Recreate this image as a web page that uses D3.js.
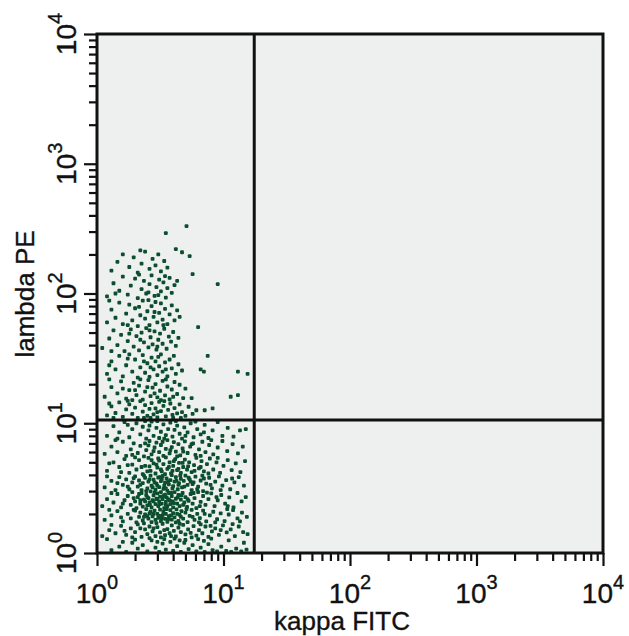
<!DOCTYPE html>
<html>
<head>
<meta charset="utf-8">
<script src="https://cdn.jsdelivr.net/npm/d3@7"></script>
<style>
  body { margin: 0; background: #fff; }
  text { font-family: "Liberation Sans", Arial, Helvetica, sans-serif; fill: #111; stroke: #111; stroke-width: 0.35px; }
</style>
</head>
<body>
<svg id="chart"></svg>
<script>
// ── Data ─────────────────────────────────────────────────────────────────────
const decades   = [1, 10, 100, 1000, 10000];
const xTitle    = 'kappa FITC';
const yTitle    = 'lambda PE';
const kappaGate  = 17.5;   // vertical quadrant marker
const lambdaGate = 10.6;   // horizontal quadrant marker

// [kappa, lambda] events, lambda below the gate
const cellsLower = [
  [1.3,1.05],[1.5,1.12],[1.7,1.02],[1.9,1.2],[2.1,1.08],[2.3,1.15],[2.5,1.03],[2.7,1.25],[2.9,1.1],[3.1,1.02],
  [3.3,1.18],[3.5,1.06],[3.8,1.22],[4.0,1.04],[4.3,1.13],[4.6,1.02],[4.9,1.2],[5.3,1.07],[5.7,1.15],[6.1,1.03],
  [6.6,1.1],[7.1,1.02],[7.6,1.17],[8.2,1.05],[8.9,1.03],[9.6,1.12],[10.5,1.04],[11.5,1.02],[12.6,1.08],[13.8,1.03],
  [15.2,1.06],[1.2,1.28],[2.0,1.27],[2.6,1.3],[3.4,1.28],[4.1,1.29],[5.0,1.26],[6.3,1.28],[8.0,1.29],[11.0,1.25],
  [14.5,1.2],[1.6,1.22],[3.0,1.22],[4.5,1.25],[7.0,1.24],
  [1.1,1.35],[1.25,1.5],[1.4,1.42],[1.55,1.62],[1.7,1.38],[1.85,1.55],[2.0,1.45],[2.1,1.66],[2.25,1.33],[2.4,1.52],
  [2.5,1.4],[2.6,1.6],[2.75,1.47],[2.9,1.35],[3.0,1.58],[3.15,1.44],[3.3,1.68],[3.45,1.37],[3.6,1.53],[3.75,1.42],
  [3.9,1.63],[4.05,1.48],[4.2,1.34],[4.4,1.57],[4.6,1.45],[4.8,1.65],[5.0,1.39],[5.25,1.52],[5.5,1.43],[5.8,1.61],
  [6.1,1.36],[6.4,1.5],[6.8,1.42],[7.2,1.6],[7.6,1.33],[8.1,1.47],[8.6,1.55],[9.2,1.38],[9.9,1.63],[10.6,1.44],
  [11.4,1.52],[12.3,1.35],[13.2,1.6],[14.3,1.45],[15.5,1.4],[1.3,1.65],[1.9,1.32],[2.35,1.69],[2.8,1.55],[3.4,1.5],
  [3.85,1.35],[4.5,1.68],[5.6,1.32],[6.6,1.66],[7.9,1.62],[9.5,1.5],[11.8,1.67],[1.65,1.48],[2.2,1.55],[3.2,1.32],
  [1.15,1.8],[1.3,1.95],[1.45,2.1],[1.6,1.75],[1.75,2.0],[1.85,1.85],[1.95,2.15],[2.05,1.72],[2.15,1.9],[2.2,2.05],
  [2.3,1.78],[2.4,1.98],[2.45,2.18],[2.55,1.84],[2.6,2.02],[2.7,1.73],[2.75,1.92],[2.85,2.12],[2.9,1.8],[3.0,2.0],
  [3.05,1.87],[3.15,2.16],[3.2,1.76],[3.3,1.96],[3.35,2.08],[3.45,1.83],[3.5,2.0],[3.6,1.74],[3.7,1.92],[3.8,2.14],
  [3.9,1.81],[4.0,2.03],[4.1,1.88],[4.25,2.17],[4.4,1.77],[4.5,1.97],[4.65,2.1],[4.8,1.84],[5.0,2.05],[5.2,1.73],
  [5.4,1.93],[5.6,2.15],[5.9,1.8],[6.2,2.0],[6.5,1.86],[6.9,2.12],[7.3,1.75],[7.8,1.95],[8.3,2.08],[8.9,1.82],
  [9.5,2.02],[10.2,1.76],[11.0,1.98],[11.9,2.14],[12.9,1.85],[14.0,2.05],[15.3,1.9],[1.25,2.15],[1.55,1.88],[2.0,2.12],
  [2.35,1.9],[2.65,2.08],[2.95,1.7],[3.25,1.85],[3.55,2.18],[3.85,1.95],[4.2,1.72],[4.6,1.9],[5.1,2.18],[5.7,1.9],
  [6.4,1.72],[7.1,2.0],[8.6,1.72],[10.7,2.18],[13.5,1.75],[2.5,1.92],[3.1,1.93],[3.65,1.82],[4.3,2.0],[2.8,2.0],
  [1.1,2.3],[1.2,2.6],[1.35,2.45],[1.45,2.85],[1.55,2.25],[1.65,2.55],[1.75,2.75],[1.85,2.35],[1.9,2.95],[2.0,2.5],
  [2.05,2.22],[2.1,2.7],[2.2,2.4],[2.25,2.9],[2.3,2.28],[2.35,2.58],[2.45,2.8],[2.5,2.33],[2.55,2.65],[2.6,2.45],
  [2.65,2.98],[2.7,2.25],[2.75,2.55],[2.8,2.78],[2.9,2.38],[2.95,2.62],[3.0,2.88],[3.05,2.3],[3.1,2.5],[3.15,2.72],
  [3.2,2.95],[3.25,2.4],[3.3,2.6],[3.4,2.22],[3.45,2.82],[3.5,2.48],[3.55,2.68],[3.6,2.3],[3.7,2.9],[3.75,2.55],
  [3.8,2.38],[3.9,2.75],[3.95,2.5],[4.0,2.25],[4.1,2.95],[4.2,2.62],[4.3,2.4],[4.4,2.8],[4.5,2.3],[4.6,2.58],
  [4.75,2.9],[4.9,2.45],[5.0,2.7],[5.15,2.27],[5.3,2.52],[5.5,2.85],[5.7,2.4],[5.9,2.65],[6.1,2.22],[6.3,2.95],
  [6.6,2.48],[6.9,2.75],[7.2,2.35],[7.6,2.6],[8.0,2.88],[8.5,2.3],[9.0,2.55],[9.6,2.8],[10.3,2.4],[11.1,2.68],
  [12.0,2.25],[12.9,2.9],[13.9,2.5],[15.0,2.7],[1.3,2.9],[1.6,2.4],[1.95,2.65],[2.15,2.85],[2.4,2.5],[2.62,2.35],
  [2.85,2.92],[3.12,2.38],[3.35,2.75],[3.65,2.6],[3.85,2.92],[4.05,2.42],[4.35,2.68],[4.65,2.78],[5.2,2.6],[5.8,2.9],
  [6.5,2.3],[7.4,2.92],[8.8,2.7],[10.8,2.3],[2.5,2.7],[2.8,2.5],[3.0,2.6],[3.5,2.35],[2.2,2.55],[4.8,2.35],
  [1.15,3.2],[1.3,3.6],[1.4,3.05],[1.5,3.85],[1.6,3.35],[1.7,3.7],[1.8,3.1],[1.9,3.5],[2.0,3.9],[2.1,3.25],
  [2.15,3.62],[2.25,3.05],[2.3,3.45],[2.4,3.8],[2.5,3.15],[2.55,3.55],[2.65,3.95],[2.7,3.3],[2.8,3.68],[2.9,3.08],
  [2.95,3.42],[3.05,3.82],[3.1,3.22],[3.2,3.58],[3.3,3.92],[3.35,3.12],[3.45,3.48],[3.55,3.75],[3.6,3.02],[3.7,3.38],
  [3.8,3.65],[3.9,3.98],[4.0,3.28],[4.1,3.55],[4.2,3.85],[4.35,3.1],[4.45,3.45],[4.6,3.72],[4.7,3.2],[4.85,3.6],
  [5.0,3.95],[5.2,3.35],[5.4,3.7],[5.6,3.05],[5.8,3.5],[6.0,3.88],[6.3,3.25],[6.6,3.62],[6.9,3.0],[7.3,3.42],
  [7.7,3.8],[8.1,3.15],[8.6,3.55],[9.2,3.9],[9.8,3.3],[10.5,3.65],[11.3,3.1],[12.2,3.5],[13.2,3.85],[14.5,3.3],
  [1.2,3.9],[1.45,3.45],[1.75,3.25],[1.95,3.78],[2.2,3.35],[2.45,3.0],[2.6,3.7],[2.85,3.5],[3.15,3.85],[3.4,3.3],
  [3.65,3.55],[3.95,3.15],[4.25,3.6],[4.55,3.95],[4.9,3.25],[5.3,3.8],[5.7,3.4],[6.2,3.1],[7.0,3.75],[7.9,3.35],
  [9.5,3.05],[11.7,3.75],[2.35,3.95],[3.0,3.3],[3.5,3.15],[3.25,3.7],[4.4,3.35],[2.75,3.2],[5.5,3.55],[6.8,3.95],
  [1.2,4.3],[1.35,5.0],[1.5,4.6],[1.65,5.3],[1.8,4.15],[1.9,4.8],[2.05,4.4],[2.15,5.2],[2.3,4.05],[2.4,4.7],
  [2.55,5.4],[2.65,4.3],[2.8,4.9],[2.9,4.1],[3.0,4.55],[3.1,5.15],[3.25,4.25],[3.35,4.85],[3.5,5.45],[3.6,4.45],
  [3.75,5.0],[3.85,4.1],[4.0,4.7],[4.15,5.3],[4.3,4.35],[4.45,4.95],[4.6,4.15],[4.8,4.6],[4.95,5.25],[5.15,4.4],
  [5.35,5.0],[5.6,4.2],[5.85,4.75],[6.1,5.4],[6.4,4.5],[6.7,5.1],[7.0,4.25],[7.4,4.85],[7.8,5.35],[8.3,4.4],
  [8.8,5.0],[9.4,4.15],[10.0,4.7],[10.8,5.2],[11.6,4.35],[12.5,4.9],[13.6,4.2],[14.8,5.1],[1.25,4.9],[1.55,4.2],
  [1.75,4.75],[2.0,5.45],[2.25,4.6],[2.5,4.25],[2.7,5.2],[2.95,4.8],[3.2,4.4],[3.45,4.05],[3.7,4.6],[4.05,5.1],
  [4.4,4.45],[4.75,4.95],[5.25,4.65],[5.9,4.3],[6.6,4.6],[7.6,4.1],[9.0,5.4],[2.6,4.65],[3.05,5.35],[3.95,4.3],
  [1.15,5.8],[1.3,6.6],[1.45,6.0],[1.6,7.2],[1.7,5.6],[1.85,6.3],[1.95,7.0],[2.1,5.9],[2.2,6.7],[2.35,5.55],
  [2.45,6.2],[2.6,7.3],[2.7,5.75],[2.85,6.5],[2.95,7.1],[3.1,6.0],[3.2,6.8],[3.35,5.6],[3.5,6.35],[3.6,7.4],
  [3.75,5.85],[3.9,6.55],[4.05,7.15],[4.2,6.05],[4.4,6.9],[4.55,5.65],[4.75,6.4],[4.95,7.25],[5.2,5.9],[5.45,6.6],
  [5.75,7.0],[6.0,5.7],[6.4,6.3],[6.8,7.2],[7.2,6.0],[7.7,6.8],[8.3,5.75],[9.0,6.5],[9.8,7.3],[10.7,6.1],
  [11.8,6.9],[13.0,5.85],[14.2,6.6],[1.4,7.4],[1.9,5.7],[2.4,7.0],[2.8,6.1],[3.3,7.2],[3.8,6.2],[4.3,5.55],
  [4.8,6.05],[5.6,6.9],[6.6,5.6],[8.0,7.4],[2.55,6.75],
  [1.2,8.0],[1.35,9.5],[1.5,8.5],[1.65,10.2],[1.8,7.8],[1.9,9.0],[2.05,10.0],[2.2,8.2],[2.3,9.4],[2.45,7.6],
  [2.55,8.8],[2.7,10.3],[2.8,8.0],[2.95,9.2],[3.1,7.7],[3.2,8.6],[3.35,9.8],[3.5,8.1],[3.65,9.0],[3.8,10.1],
  [3.95,7.9],[4.1,8.9],[4.3,9.6],[4.5,8.3],[4.7,7.6],[4.9,9.3],[5.2,8.5],[5.5,10.0],[5.8,7.8],[6.2,9.0],
  [6.6,8.2],[7.1,9.7],[7.6,7.7],[8.2,8.8],[9.0,10.2],[9.8,8.0],[10.8,9.2],[12.0,7.9],[13.5,8.8],[1.45,7.6],
  [1.75,9.7],[2.4,10.4],[2.6,9.6],[3.0,10.4],[3.4,7.6],[4.2,10.4],[5.0,8.0],[6.0,10.3],[7.0,8.5],[15.0,9.0]
];

// [kappa, lambda] events, lambda above the gate
const cellsUpper = [
  [1.2,11.5],[1.3,13.5],[1.4,12.0],[1.5,14.5],[1.6,11.2],[1.7,12.8],[1.8,14.0],[1.9,11.8],[2.0,13.2],[2.1,11.0],
  [2.2,14.8],[2.3,12.3],[2.4,13.8],[2.5,11.4],[2.6,12.9],[2.7,14.3],[2.8,11.7],[2.9,13.0],[3.0,11.1],[3.1,14.6],
  [3.2,12.4],[3.35,13.6],[3.5,11.3],[3.65,12.7],[3.8,14.2],[3.95,11.6],[4.1,13.1],[4.3,11.9],[4.5,14.0],[4.7,12.2],
  [5.0,11.4],[5.3,13.4],[5.7,11.8],[6.1,12.6],[7.1,12.6],[8.2,13.0],[1.35,11.0],[1.75,14.9],[2.35,11.0],[2.65,11.0],
  [3.0,12.2],[3.4,14.8],[4.0,11.0],[4.6,11.0],[1.25,14.2],
  [1.15,16.0],[1.3,19.0],[1.45,17.0],[1.55,21.0],[1.7,15.5],[1.8,18.0],[1.95,20.5],[2.05,16.5],[2.15,19.5],[2.3,15.2],
  [2.4,17.5],[2.55,21.5],[2.65,16.2],[2.75,18.8],[2.9,20.0],[3.0,15.8],[3.15,17.8],[3.3,21.2],[3.45,16.4],[3.6,19.2],
  [3.75,15.3],[3.9,18.2],[4.1,20.8],[4.3,16.8],[4.5,19.8],[4.8,15.6],[5.0,18.5],[5.6,15.6],[11.4,16.0],[13.0,16.5],
  [1.25,21.8],[1.9,15.1],[2.5,19.0],[2.2,21.8],[2.85,17.0],[3.5,21.8],[3.2,15.1],[4.0,16.0],[1.6,18.5],[2.0,18.0],
  [1.2,24],[1.3,30],[1.4,26],[1.5,33],[1.6,23],[1.7,28],[1.8,34],[1.9,25],[2.0,31],[2.1,22.5],
  [2.2,27],[2.3,33.5],[2.4,24.5],[2.5,29],[2.6,22.8],[2.7,32],[2.8,26],[2.9,30],[3.0,23.5],[3.1,27.5],
  [3.2,34],[3.3,25],[3.45,29.5],[3.6,23],[3.75,31],[3.9,26.5],[4.05,33],[4.2,24],[4.4,28.5],[4.7,25.5],
  [1.25,28],[1.75,31.5],[2.35,30],[2.65,27],[3.05,32.5],[3.5,26],[6.6,26],[7.0,25],[7.5,33],[13.0,25],[15.5,24],
  [1.1,38],[1.25,45],[1.35,52],[1.45,40],[1.55,48],[1.65,36],[1.75,43],[1.85,53],[1.95,39],[2.05,47],
  [2.15,36.5],[2.25,50],[2.35,42],[2.45,54],[2.55,38.5],[2.65,46],[2.75,40.5],[2.85,51],[2.95,37],[3.05,44],
  [3.15,49],[3.3,41],[3.4,53.5],[3.55,37.5],[3.7,46.5],[3.85,42.5],[4.0,50.5],[4.2,39.5],[4.4,45.5],[1.3,36],
  [1.8,49],[2.2,44],[2.6,52],[3.0,39],[6.3,55],
  [1.2,60],[1.3,75],[1.4,65],[1.5,85],[1.6,58],[1.7,70],[1.8,82],[1.9,62],[2.0,77],[2.1,56],
  [2.2,68],[2.3,88],[2.4,64],[2.5,73],[2.6,57],[2.7,80],[2.8,66],[2.9,86],[3.0,60],[3.1,71],
  [3.2,84],[3.3,63],[3.45,76],[3.6,58],[3.75,69],[3.9,81],[4.1,62],[4.3,74],[1.25,88],[1.75,57],
  [2.15,79],[2.55,89],[2.85,72],[3.35,57],[4.5,66],
  [1.2,95],[1.35,120],[1.5,105],[1.6,135],[1.75,98],[1.85,115],[2.0,130],[2.1,92],[2.25,108],[2.35,125],
  [2.45,100],[2.6,118],[2.7,138],[2.85,96],[2.95,112],[3.1,128],[3.2,104],[3.35,122],[3.5,93],[3.6,110],
  [3.75,132],[3.9,101],[4.1,116],[1.4,100],[2.15,140],[2.55,102],[3.05,97],[3.45,136],[4.3,125],[9.0,118],
  [1.3,150],[1.45,175],[1.6,200],[1.8,160],[1.95,190],[2.1,145],[2.25,170],[2.4,210],[2.6,155],[2.75,185],
  [2.9,165],[3.05,200],[3.2,148],[3.4,178],[3.6,158],[4.2,220],[4.7,208],[5.4,194],[5.7,141],[2.2,215],
  [3.5,292],[5.1,331]
];

// ── Layout ───────────────────────────────────────────────────────────────────
const W = 629, H = 636;
const M = { left: 97, right: 603, top: 34, bottom: 553 };

const svg = d3.select('#chart').attr('width', W).attr('height', H);

const x = d3.scaleLog().domain([1, 1e4]).range([M.left, M.right]);
const y = d3.scaleLog().domain([1, 1e4]).range([M.bottom, M.top]);

const isMajor = v => Math.abs(Math.log10(v) - Math.round(Math.log10(v))) < 1e-6;

// plot background
svg.append('rect')
    .attr('x', M.left).attr('y', M.top)
    .attr('width', M.right - M.left).attr('height', M.bottom - M.top)
    .attr('fill', '#eef0f0');

// ── Events ───────────────────────────────────────────────────────────────────
const dot = 3.8;
const gDots = svg.append('g').attr('fill', '#0b4f2e');
gDots.selectAll('rect')
    .data(cellsLower.concat(cellsUpper))
    .join('rect')
    .attr('x', d => x(d[0]) - dot / 2)
    .attr('y', d => y(d[1]) - dot / 2)
    .attr('width', dot).attr('height', dot)
    .attr('rx', 1);

// ── Axes ─────────────────────────────────────────────────────────────────────
const gx = svg.append('g').attr('transform', `translate(0,${M.bottom})`)
    .call(d3.axisBottom(x).tickSizeOuter(0).tickFormat(''));
gx.select('.domain').remove();
gx.selectAll('.tick line')
    .attr('y2', d => isMajor(d) ? 13 : 8)
    .attr('stroke', '#111').attr('stroke-width', 2.2);

const gy = svg.append('g').attr('transform', `translate(${M.left},0)`)
    .call(d3.axisLeft(y).tickSizeOuter(0).tickFormat(''));
gy.select('.domain').remove();
gy.selectAll('.tick line')
    .attr('x2', d => isMajor(d) ? -13 : -8)
    .attr('stroke', '#111').attr('stroke-width', 2.2);

function powerLabel(sel) {
    sel.each(function (d) {
        const t = d3.select(this);
        t.append('tspan').text('10');
        t.append('tspan').attr('dy', -14).attr('font-size', 20)
            .text(Math.round(Math.log10(d)));
    });
}

svg.append('g').selectAll('text').data(decades).join('text')
    .attr('x', d => x(d)).attr('y', 603)
    .attr('text-anchor', 'middle').attr('font-size', 28)
    .call(powerLabel);

svg.append('g').selectAll('text').data(decades).join('text')
    .attr('transform', d => `translate(76,${y(d)}) rotate(-90)`)
    .attr('text-anchor', 'middle').attr('font-size', 28)
    .call(powerLabel);

svg.append('text')
    .attr('x', 342).attr('y', 630)
    .attr('text-anchor', 'middle').attr('font-size', 26)
    .text(xTitle);

svg.append('text')
    .attr('transform', `translate(34,294) rotate(-90)`)
    .attr('text-anchor', 'middle').attr('font-size', 26)
    .text(yTitle);

// ── Frame and quadrant markers ───────────────────────────────────────────────
const gFrame = svg.append('g').attr('stroke', '#111').attr('stroke-width', 3).attr('fill', 'none');
gFrame.append('rect')
    .attr('x', M.left).attr('y', M.top)
    .attr('width', M.right - M.left).attr('height', M.bottom - M.top);
gFrame.append('line')
    .attr('x1', x(kappaGate)).attr('x2', x(kappaGate))
    .attr('y1', M.top).attr('y2', M.bottom);
gFrame.append('line')
    .attr('x1', M.left).attr('x2', M.right)
    .attr('y1', y(lambdaGate)).attr('y2', y(lambdaGate));
</script>
</body>
</html>
